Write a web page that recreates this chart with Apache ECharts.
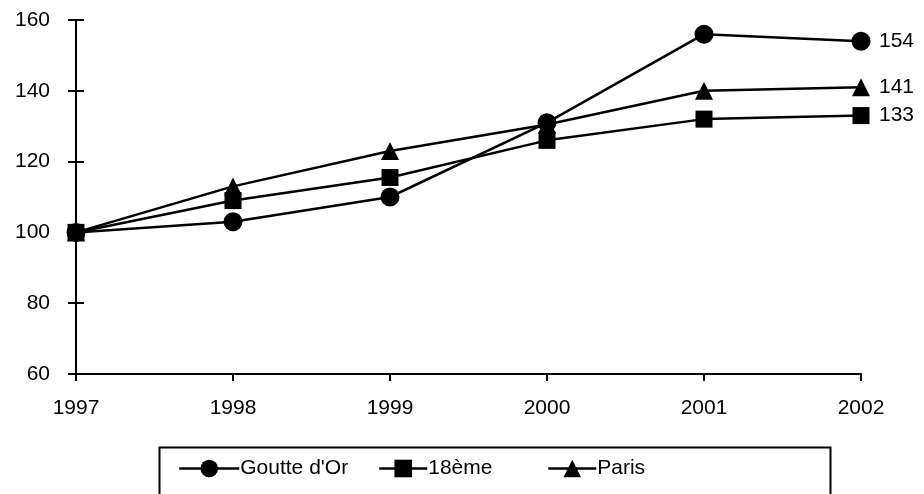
<!DOCTYPE html>
<html>
<head>
<meta charset="utf-8">
<script src="https://cdn.jsdelivr.net/npm/echarts@6/dist/echarts.min.js"></script>
<style>html,body{margin:0;padding:0;background:#fff;}#c{width:924px;height:494px;}</style>
</head>
<body>
<div id="c"></div>
<script>
var years = ['1997', '1998', '1999', '2000', '2001', '2002'];
var goutteDOr = [100, 103, 110, 131, 156, 154];
var dix8eme = [100, 109, 115.5, 126, 132, 133];
var paris = [100, 113, 123, 130.5, 140, 141];
var yTicks = {min: 60, max: 160, interval: 20};

var FONT = 'Liberation Sans';
var FS = 21;
var chart = echarts.init(document.getElementById('c'), null, {renderer: 'canvas'});

function mkSeries(name, data, symbol, size) {
  return {
    name: name, type: 'line', data: data, symbol: symbol, symbolSize: size,
    showAllSymbol: true, animation: false,
    lineStyle: {color: '#000', width: 2.5},
    itemStyle: {color: '#000'},
    endLabel: {show: true, formatter: function (p) { return Math.round(p.value); },
      color: '#000', fontSize: FS, fontFamily: FONT, distance: 18}
  };
}

function mkLegend(name, left, w) {
  return {
    data: [name], left: left, top: 458, padding: 0, itemWidth: w, itemHeight: 22,
    itemGap: 0, selectedMode: false,
    lineStyle: {width: 2.5, color: '#000'},
    textStyle: {color: '#000', fontSize: FS, fontFamily: FONT, padding: [0, 0, 0, -4]}
  };
}

var axisCommon = {
  min: yTicks.min, max: yTicks.max, interval: yTicks.interval
};

chart.setOption({
  animation: false,
  backgroundColor: '#fff',
  grid: {left: 76, right: 63, top: 20, bottom: 120},
  xAxis: {
    type: 'category', data: years, boundaryGap: false,
    axisLine: {lineStyle: {color: '#000', width: 2}},
    axisTick: {show: true, inside: false, length: 7, lineStyle: {color: '#000', width: 2}},
    axisLabel: {color: '#000', fontSize: FS, fontFamily: FONT, margin: 24},
    splitLine: {show: false}
  },
  yAxis: [
    Object.assign({type: 'value',
      axisLine: {show: true, lineStyle: {color: '#000', width: 2}},
      axisTick: {show: true, inside: false, length: 8, lineStyle: {color: '#000', width: 2}},
      axisLabel: {color: '#000', fontSize: FS, fontFamily: FONT, margin: 26},
      splitLine: {show: false}}, axisCommon),
    Object.assign({type: 'value', position: 'left',
      axisLine: {show: false},
      axisTick: {show: true, inside: true, length: 8, lineStyle: {color: '#000', width: 2}},
      axisLabel: {show: false},
      splitLine: {show: false}}, axisCommon)
  ],
  legend: [
    mkLegend("Goutte d'Or", 178, 60),
    mkLegend('18ème', 378, 48),
    mkLegend('Paris', 547, 48)
  ],
  graphic: [{
    type: 'rect', left: 157, top: 445,
    shape: {width: 671, height: 60},
    style: {fill: 'none', stroke: '#000', lineWidth: 2}
  }],
  series: [
    mkSeries("Goutte d'Or", goutteDOr, 'circle', 19),
    mkSeries('18ème', dix8eme, 'rect', 17),
    mkSeries('Paris', paris, 'triangle', 18)
  ]
});
</script>
</body>
</html>
